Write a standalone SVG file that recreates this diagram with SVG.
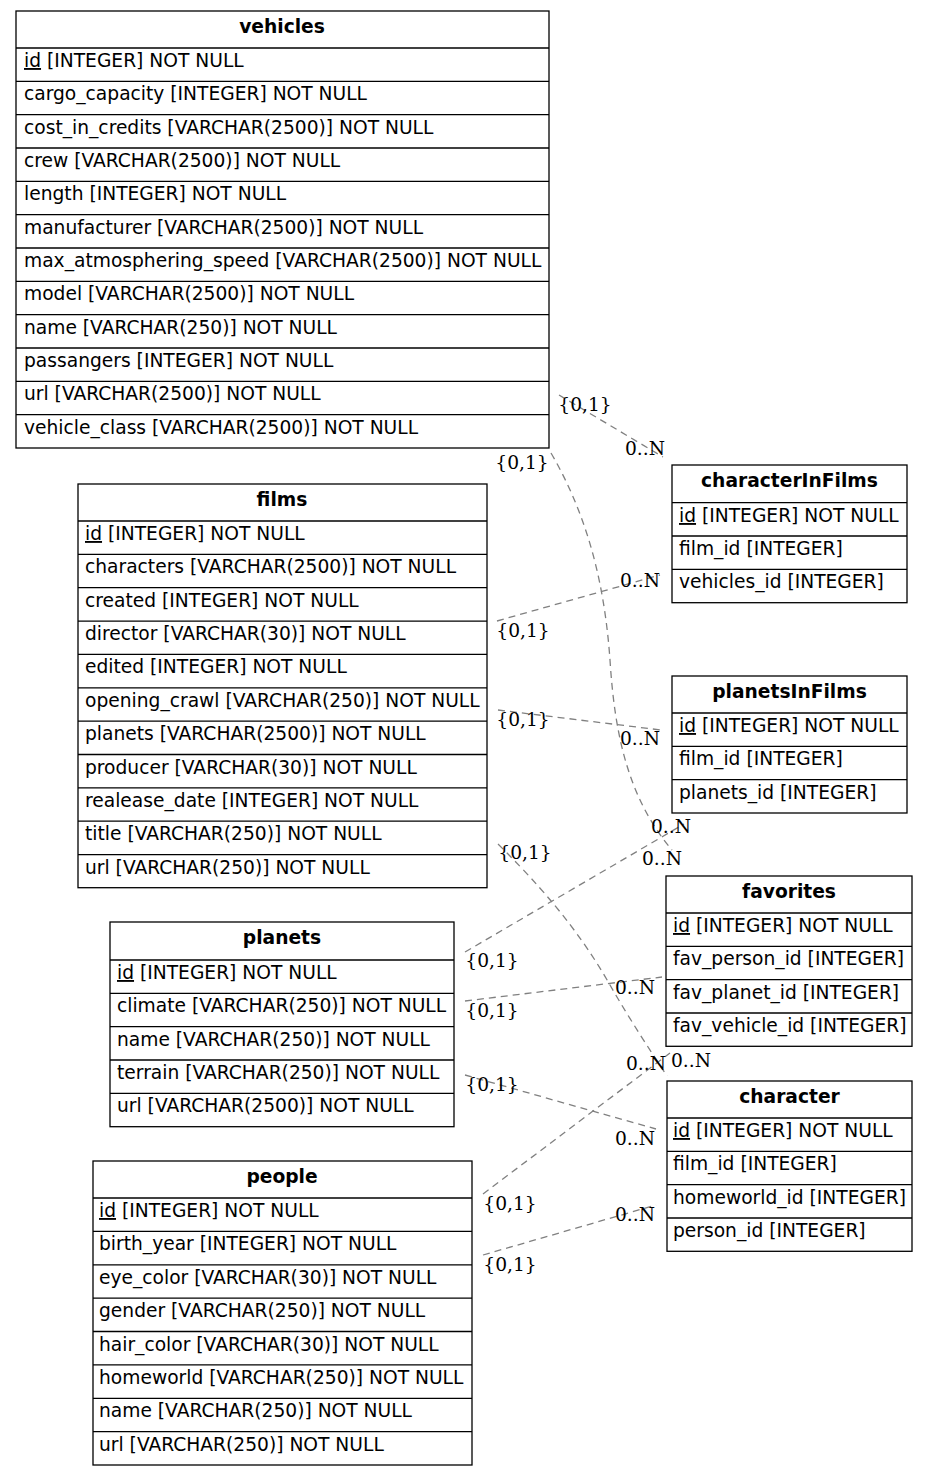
<svg xmlns="http://www.w3.org/2000/svg" width="928" height="1476" viewBox="0 0 928 1476">
<style>
.box{fill:#fff;stroke:#000;stroke-width:1.3}
.ln{stroke:#000;stroke-width:1.3}
.t{font-family:"DejaVu Sans",sans-serif;font-size:18.67px;fill:#000}
.h{font-family:"DejaVu Sans",sans-serif;font-size:18.67px;font-weight:bold;fill:#000;text-anchor:middle}
.lab{font-family:"DejaVu Serif",serif;font-size:18.67px;fill:#000;text-anchor:middle}
.e{fill:none;stroke:#808080;stroke-width:1.3;stroke-dasharray:7,5}
.u{text-decoration:underline}
</style>
<rect width="928" height="1476" fill="#fff"/>
<g id="connectors">
<path class="e" d="M559,395 L663,457"/>
<path class="e" d="M551,453 C590,520 605,590 610,660 C615,740 630,800 672,850"/>
<path class="e" d="M497,621 L660,575"/>
<path class="e" d="M498,710 L661,730"/>
<path class="e" d="M498,844 C560,905 590,950 610,985 C630,1020 650,1050 667,1076"/>
<path class="e" d="M465,952 L684,824"/>
<path class="e" d="M465,1001 L662,977"/>
<path class="e" d="M465,1075 L656,1129"/>
<path class="e" d="M483,1194 L670,1053"/>
<path class="e" d="M483,1255 L656,1205"/>
<text class="lab" x="585" y="411">{0,1}</text>
<text class="lab" x="645" y="455">0..N</text>
<text class="lab" x="522" y="469">{0,1}</text>
<text class="lab" x="671" y="833">0..N</text>
<text class="lab" x="523" y="637">{0,1}</text>
<text class="lab" x="640" y="587">0..N</text>
<text class="lab" x="523" y="726">{0,1}</text>
<text class="lab" x="640" y="745">0..N</text>
<text class="lab" x="525" y="859">{0,1}</text>
<text class="lab" x="691" y="1067">0..N</text>
<text class="lab" x="492" y="967">{0,1}</text>
<text class="lab" x="662" y="865">0..N</text>
<text class="lab" x="492" y="1017">{0,1}</text>
<text class="lab" x="635" y="994">0..N</text>
<text class="lab" x="492" y="1091">{0,1}</text>
<text class="lab" x="635" y="1145">0..N</text>
<text class="lab" x="510" y="1210">{0,1}</text>
<text class="lab" x="646" y="1070">0..N</text>
<text class="lab" x="510" y="1271">{0,1}</text>
<text class="lab" x="635" y="1221">0..N</text>
</g>
<g id="vehicles">
<rect class="box" x="16" y="11" width="533" height="437"/>
<line class="ln" x1="16" y1="48" x2="549" y2="48"/>
<line class="ln" x1="16" y1="81.3" x2="549" y2="81.3"/>
<line class="ln" x1="16" y1="114.7" x2="549" y2="114.7"/>
<line class="ln" x1="16" y1="148" x2="549" y2="148"/>
<line class="ln" x1="16" y1="181.3" x2="549" y2="181.3"/>
<line class="ln" x1="16" y1="214.7" x2="549" y2="214.7"/>
<line class="ln" x1="16" y1="248" x2="549" y2="248"/>
<line class="ln" x1="16" y1="281.3" x2="549" y2="281.3"/>
<line class="ln" x1="16" y1="314.7" x2="549" y2="314.7"/>
<line class="ln" x1="16" y1="348" x2="549" y2="348"/>
<line class="ln" x1="16" y1="381.3" x2="549" y2="381.3"/>
<line class="ln" x1="16" y1="414.7" x2="549" y2="414.7"/>
<text class="h" x="282" y="33">vehicles</text>
<text class="t" x="24" y="67"><tspan class="u">id</tspan> [INTEGER] NOT NULL</text>
<text class="t" x="24" y="100.3">cargo_capacity [INTEGER] NOT NULL</text>
<text class="t" x="24" y="133.7">cost_in_credits [VARCHAR(2500)] NOT NULL</text>
<text class="t" x="24" y="167">crew [VARCHAR(2500)] NOT NULL</text>
<text class="t" x="24" y="200.3">length [INTEGER] NOT NULL</text>
<text class="t" x="24" y="233.7">manufacturer [VARCHAR(2500)] NOT NULL</text>
<text class="t" x="24" y="267">max_atmosphering_speed [VARCHAR(2500)] NOT NULL</text>
<text class="t" x="24" y="300.3">model [VARCHAR(2500)] NOT NULL</text>
<text class="t" x="24" y="333.7">name [VARCHAR(250)] NOT NULL</text>
<text class="t" x="24" y="367">passangers [INTEGER] NOT NULL</text>
<text class="t" x="24" y="400.3">url [VARCHAR(2500)] NOT NULL</text>
<text class="t" x="24" y="433.7">vehicle_class [VARCHAR(2500)] NOT NULL</text>
</g>
<g id="films">
<rect class="box" x="78" y="484" width="409" height="403.7"/>
<line class="ln" x1="78" y1="521" x2="487" y2="521"/>
<line class="ln" x1="78" y1="554.4" x2="487" y2="554.4"/>
<line class="ln" x1="78" y1="587.7" x2="487" y2="587.7"/>
<line class="ln" x1="78" y1="621.1" x2="487" y2="621.1"/>
<line class="ln" x1="78" y1="654.4" x2="487" y2="654.4"/>
<line class="ln" x1="78" y1="687.8" x2="487" y2="687.8"/>
<line class="ln" x1="78" y1="721.2" x2="487" y2="721.2"/>
<line class="ln" x1="78" y1="754.5" x2="487" y2="754.5"/>
<line class="ln" x1="78" y1="787.9" x2="487" y2="787.9"/>
<line class="ln" x1="78" y1="821.2" x2="487" y2="821.2"/>
<line class="ln" x1="78" y1="854.6" x2="487" y2="854.6"/>
<text class="h" x="282" y="506">films</text>
<text class="t" x="85" y="540"><tspan class="u">id</tspan> [INTEGER] NOT NULL</text>
<text class="t" x="85" y="573.4">characters [VARCHAR(2500)] NOT NULL</text>
<text class="t" x="85" y="606.7">created [INTEGER] NOT NULL</text>
<text class="t" x="85" y="640.1">director [VARCHAR(30)] NOT NULL</text>
<text class="t" x="85" y="673.4">edited [INTEGER] NOT NULL</text>
<text class="t" x="85" y="706.8">opening_crawl [VARCHAR(250)] NOT NULL</text>
<text class="t" x="85" y="740.2">planets [VARCHAR(2500)] NOT NULL</text>
<text class="t" x="85" y="773.5">producer [VARCHAR(30)] NOT NULL</text>
<text class="t" x="85" y="806.9">realease_date [INTEGER] NOT NULL</text>
<text class="t" x="85" y="840.2">title [VARCHAR(250)] NOT NULL</text>
<text class="t" x="85" y="873.6">url [VARCHAR(250)] NOT NULL</text>
</g>
<g id="planets">
<rect class="box" x="110" y="922" width="344" height="204.7"/>
<line class="ln" x1="110" y1="960" x2="454" y2="960"/>
<line class="ln" x1="110" y1="993.3" x2="454" y2="993.3"/>
<line class="ln" x1="110" y1="1026.7" x2="454" y2="1026.7"/>
<line class="ln" x1="110" y1="1060" x2="454" y2="1060"/>
<line class="ln" x1="110" y1="1093.3" x2="454" y2="1093.3"/>
<text class="h" x="282" y="944">planets</text>
<text class="t" x="117" y="979"><tspan class="u">id</tspan> [INTEGER] NOT NULL</text>
<text class="t" x="117" y="1012.3">climate [VARCHAR(250)] NOT NULL</text>
<text class="t" x="117" y="1045.7">name [VARCHAR(250)] NOT NULL</text>
<text class="t" x="117" y="1079">terrain [VARCHAR(250)] NOT NULL</text>
<text class="t" x="117" y="1112.3">url [VARCHAR(2500)] NOT NULL</text>
</g>
<g id="people">
<rect class="box" x="93" y="1161" width="379" height="304"/>
<line class="ln" x1="93" y1="1198" x2="472" y2="1198"/>
<line class="ln" x1="93" y1="1231.4" x2="472" y2="1231.4"/>
<line class="ln" x1="93" y1="1264.8" x2="472" y2="1264.8"/>
<line class="ln" x1="93" y1="1298.1" x2="472" y2="1298.1"/>
<line class="ln" x1="93" y1="1331.5" x2="472" y2="1331.5"/>
<line class="ln" x1="93" y1="1364.9" x2="472" y2="1364.9"/>
<line class="ln" x1="93" y1="1398.3" x2="472" y2="1398.3"/>
<line class="ln" x1="93" y1="1431.6" x2="472" y2="1431.6"/>
<text class="h" x="282" y="1183">people</text>
<text class="t" x="99" y="1217"><tspan class="u">id</tspan> [INTEGER] NOT NULL</text>
<text class="t" x="99" y="1250.4">birth_year [INTEGER] NOT NULL</text>
<text class="t" x="99" y="1283.8">eye_color [VARCHAR(30)] NOT NULL</text>
<text class="t" x="99" y="1317.1">gender [VARCHAR(250)] NOT NULL</text>
<text class="t" x="99" y="1350.5">hair_color [VARCHAR(30)] NOT NULL</text>
<text class="t" x="99" y="1383.9">homeworld [VARCHAR(250)] NOT NULL</text>
<text class="t" x="99" y="1417.3">name [VARCHAR(250)] NOT NULL</text>
<text class="t" x="99" y="1450.6">url [VARCHAR(250)] NOT NULL</text>
</g>
<g id="characterInFilms">
<rect class="box" x="672" y="465" width="235" height="137.7"/>
<line class="ln" x1="672" y1="502.7" x2="907" y2="502.7"/>
<line class="ln" x1="672" y1="536" x2="907" y2="536"/>
<line class="ln" x1="672" y1="569.3" x2="907" y2="569.3"/>
<text class="h" x="789.5" y="487">characterInFilms</text>
<text class="t" x="679" y="522"><tspan class="u">id</tspan> [INTEGER] NOT NULL</text>
<text class="t" x="679" y="555">film_id [INTEGER]</text>
<text class="t" x="679" y="588.3">vehicles_id [INTEGER]</text>
</g>
<g id="planetsInFilms">
<rect class="box" x="672" y="676" width="235" height="137"/>
<line class="ln" x1="672" y1="713" x2="907" y2="713"/>
<line class="ln" x1="672" y1="746.3" x2="907" y2="746.3"/>
<line class="ln" x1="672" y1="779.7" x2="907" y2="779.7"/>
<text class="h" x="789.5" y="698">planetsInFilms</text>
<text class="t" x="679" y="732"><tspan class="u">id</tspan> [INTEGER] NOT NULL</text>
<text class="t" x="679" y="765.3">film_id [INTEGER]</text>
<text class="t" x="679" y="798.7">planets_id [INTEGER]</text>
</g>
<g id="favorites">
<rect class="box" x="666" y="876" width="246" height="170.3"/>
<line class="ln" x1="666" y1="913" x2="912" y2="913"/>
<line class="ln" x1="666" y1="946.3" x2="912" y2="946.3"/>
<line class="ln" x1="666" y1="979.7" x2="912" y2="979.7"/>
<line class="ln" x1="666" y1="1013" x2="912" y2="1013"/>
<text class="h" x="789" y="898">favorites</text>
<text class="t" x="673" y="932"><tspan class="u">id</tspan> [INTEGER] NOT NULL</text>
<text class="t" x="673" y="965.3">fav_person_id [INTEGER]</text>
<text class="t" x="673" y="998.7">fav_planet_id [INTEGER]</text>
<text class="t" x="673" y="1032">fav_vehicle_id [INTEGER]</text>
</g>
<g id="character">
<rect class="box" x="667" y="1081" width="245" height="170.3"/>
<line class="ln" x1="667" y1="1118" x2="912" y2="1118"/>
<line class="ln" x1="667" y1="1151.3" x2="912" y2="1151.3"/>
<line class="ln" x1="667" y1="1184.7" x2="912" y2="1184.7"/>
<line class="ln" x1="667" y1="1218" x2="912" y2="1218"/>
<text class="h" x="789.5" y="1103">character</text>
<text class="t" x="673" y="1137"><tspan class="u">id</tspan> [INTEGER] NOT NULL</text>
<text class="t" x="673" y="1170.3">film_id [INTEGER]</text>
<text class="t" x="673" y="1203.7">homeworld_id [INTEGER]</text>
<text class="t" x="673" y="1237">person_id [INTEGER]</text>
</g>
</svg>
